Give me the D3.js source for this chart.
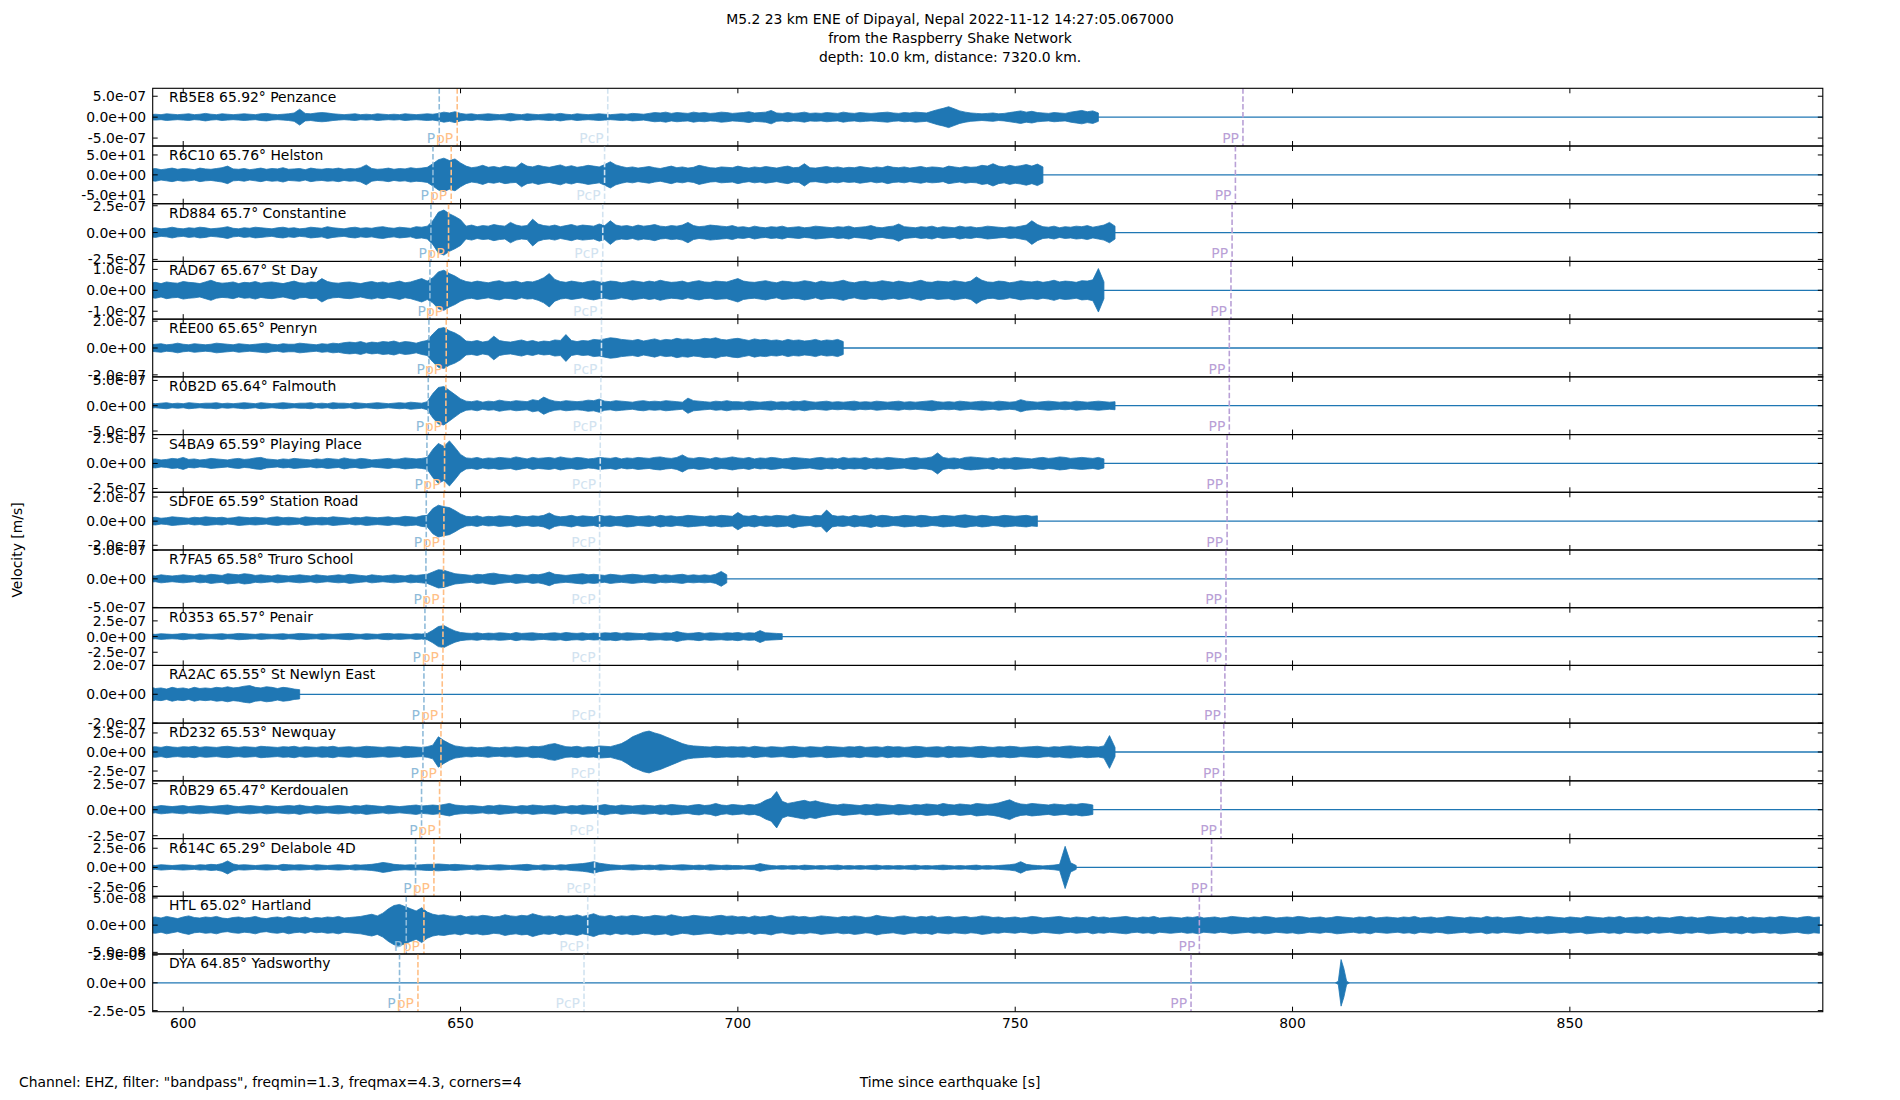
<!DOCTYPE html>
<html>
<head>
<meta charset="utf-8">
<script src="https://cdn.jsdelivr.net/npm/d3@7"></script>
<style>
  body { margin: 0; background: #fff; }
  text { font-family: "DejaVu Sans", sans-serif; font-size: 13.9px; fill: #000; }
</style>
</head>
<body>
<div id="chart"></div>
<script>
(function () {
  const Blue = "#1f77b4";

  // Stations, top to bottom
  const stationCodes = ["RB5E8", "R6C10", "RD884", "RAD67", "REE00", "R0B2D", "S4BA9", "SDF0E",
    "R7FA5", "R0353", "RA2AC", "RD232", "R0B29", "R614C", "HTL", "DYA"];
  const distances = [65.92, 65.76, 65.7, 65.67, 65.65, 65.64, 65.59, 65.59,
    65.58, 65.57, 65.55, 65.53, 65.47, 65.29, 65.02, 64.85];
  const places = ["Penzance", "Helston", "Constantine", "St Day", "Penryn", "Falmouth", "Playing Place", "Station Road",
    "Truro School", "Penair", "St Newlyn East", "Newquay", "Kerdoualen", "Delabole 4D", "Hartland", "Yadsworthy"];

  // y range (+/-) and tick value of each panel [m/s]
  const yLimits = [6.9e-7, 72.5, 2.69e-7, 1.38e-7, 2.15e-7, 5.7e-7, 2.88e-7, 2.39e-7,
    5.05e-7, 4.6e-7, 2.0e-7, 3.79e-7, 2.77e-7, 3.76e-6, 5.3e-8, 2.6e-5];
  const yTicks = [5e-7, 50, 2.5e-7, 1e-7, 2e-7, 5e-7, 2.5e-7, 2e-7,
    5e-7, 2.5e-7, 2e-7, 2.5e-7, 2.5e-7, 2.5e-6, 5e-8, 2.5e-5];

  // phase arrival times [s since origin]
  const pTimes = [646.16, 645.03, 644.66, 644.48, 644.3, 644.18, 643.94, 643.82,
    643.76, 643.58, 643.4, 643.22, 642.97, 641.89, 640.21, 639.0];
  const pPTimes = [649.4, 648.32, 647.84, 647.6, 647.42, 647.36, 647.12, 647.0,
    646.94, 646.83, 646.7, 646.47, 646.22, 645.2, 643.4, 642.32];
  const pcpTimes = [676.54, 675.97, 675.64, 675.41, 675.41, 675.3, 675.19, 675.07,
    675.07, 675.07, 675.07, 674.96, 674.74, 674.17, 672.93, 672.26];
  const ppTimes = [791.06, 789.7, 789.1, 788.9, 788.6, 788.6, 788.2, 788.2,
    788.0, 788.0, 787.8, 787.6, 787.1, 785.4, 783.2, 781.7];

  const timeLimits = [594.5, 895.6];
  const timeTicks = [600, 650, 700, 750, 800, 850];

  // trace envelopes in units of (tick value / 50), first sample time and step [s]
  const traceStart = [594, 594, 594, 594, 594, 594, 594, 594, 594, 594, 594, 594, 594, 594, 594, 807.75];
  const sampleStep = [1, 1, 1, 1, 1, 1, 1, 1, 1, 1, 1, 1, 1, 1, 1, 0.5];

  const envPenzance = [6,7,6,8,7,6,7,8,6,7,9,7,6,8,7,6,7,8,7,6,8,9,7,6,7,8,
    10,19,9, 8,10,11,10,8,
    7,6,7,8,6,7,6,8,7,6,7,6,8,7,6,7,8,7,
    9,12,10,13,9,
    7,8,6,7,8,7,6,7,9,7,6,8,7,6,7,8,7,9,7,6,8,7,6,7,8,7,6,7,8,7,9,8,7,
    9,11,10,12,9,11,10,9,12,10,11,9,10,12,11,9,10,11,13,10,11,12,16,
    10,9,11,9,10,12,9,10,9,11,10,9,12,10,9,11,10,9,10,11,12,10,9,11,10,12,11,10,
    14,18,21,25,20,15,12,10, 9,8,9,10,8,9,11, 13,15,12,14,11, 10,9,11,10,9,12, 14,16,13,15,10];
  const envHelston = [14,16,13,15,17,14,16,15,13,17,15,14,16,18,22,
    15,14,16,13,15,17,14,16,15,18,14,15,16,13,17,15,14,16,15,17,14,16,15,18,
    25,16,14,15,17,14,16,15,18,16,17,19,
    28,38,42,36,40,30,
    22,18,20,24,19,21,18,22,20,19,30,22,20,24,21,19,22,25,20,23,19,21,24,22,20,26,
    33,25,21,
    18,20,17,19,21,18,16,19,22,18,20,17,19,24,21,18,17,20,19,18,22,19,17,20,18,21,19,17,20,22,18,19,
    28,
    18,17,19,21,18,20,17,19,18,21,19,17,20,18,22,19,18,20,17,19,21,18,20,19,17,22,20,18,21,19,20,24,22,
    28,22,20,24,21,23,26,22,27,20];
  const envConstantine = [8,9,7,8,10,8,7,9,8,10,9,7,8,9,11,8,7,9,8,10,9,8,7,9,10,8,9,7,8,10,9,8,11,9,8,7,9,10,8,9,8,10,11,9,8,10,9,8,11,10,12,
    22,38,42,35,30,24,
    12,14,11,13,12,15,13,12,19,14,12,13,25,16,13,12,14,11,13,15,12,14,13,12,16,13,22,14,12,13,11,14,12,13,15,12,11,13,12,14,19,13,11,12,14,13,12,11,13,
    10,11,9,12,10,9,11,10,12,9,10,11,9,10,12,11,10,9,11,10,12,9,10,11,13,10,9,11,12,16,11,10,9,11,10,12,9,11,10,9,12,10,11,9,10,12,11,10,9,11,10,12,14,22,15,11,10,12,9,11,10,12,11,13,10,12,14,19,12];
  const envStDay = [17,19,16,20,18,17,21,19,18,16,20,24,19,17,18,20,16,19,18,21,17,19,20,18,16,19,22,18,17,20,19,28,21,18,17,19,20,18,16,19,21,18,20,17,19,22,18,20,24,28,22,
    30,44,48,40,34,26,
    21,19,22,20,18,21,23,19,20,22,18,21,20,24,30,40,26,21,19,22,20,18,21,23,20,19,22,21,18,20,23,21,19,22,20,24,21,19,20,22,18,21,23,20,19,22,21,20,24,
    28,22,20,19,21,23,20,18,22,21,19,20,23,21,18,22,20,19,21,24,20,18,21,22,19,20,23,21,19,22,20,18,21,24,20,19,22,21,20,23,21,19,22,32,24,20,19,22,21,18,20,23,21,20,22,19,21,24,20,22,21,19,23,22,25,52,20];
  const envPenryn = [6,7,8,6,7,9,7,6,8,7,6,7,9,8,7,6,8,7,6,7,8,9,7,6,8,7,7,9,8,7,6,8,7,9,8,10,
    11,10,12,9,11,10,12,11,13,10,12,11,9,12,14,
    26,36,38,32,28,22,
    13,12,14,11,13,22,14,12,11,13,15,12,14,11,13,12,15,14,25,14,12,
    14,13,16,15,17,19,18,16,15,14,16,13,15,17,14,16,15,18,16,17,15,16,18,17,19,16,15,17,18,16,14,17,15,16,14,15,13,16,14,15,13,14,16,13,15,14,16,12];
  const envFalmouth = [5,4,5,6,4,5,4,6,5,4,5,5,6,4,5,4,5,6,5,4,6,5,4,5,6,5,4,5,5,6,4,5,4,6,5,5,4,6,5,4,5,6,5,4,5,6,5,7,6,5,8,
    24,36,38,30,22,14,
    9,8,10,7,9,8,11,9,8,10,9,8,12,10,17,12,9,8,10,9,8,9,11,10,13,9,8,10,9,8,7,9,10,8,9,8,10,9,8,7,15,10,9,8,7,9,8,10,8,
    8,7,9,8,7,8,9,7,8,7,9,8,10,8,7,8,9,7,8,7,8,9,7,8,7,9,8,7,8,9,7,8,7,8,9,10,8,7,8,7,9,8,7,8,9,8,7,9,8,7,8,12,9,8,7,8,9,8,7,8,7,9,8,7,8,9,8,7,8];
  const envPlayingPlace = [8,9,7,8,10,9,12,8,9,7,8,10,9,8,7,9,10,8,9,11,12,9,8,7,9,8,10,9,8,7,9,8,10,9,8,11,9,8,10,9,7,8,9,10,8,9,11,10,9,10,12,
    28,40,34,45,32,18,
    11,10,12,9,11,10,12,11,10,13,11,9,12,10,11,12,10,13,11,10,12,11,9,10,12,11,10,12,9,11,10,12,11,10,12,13,11,10,12,17,11,10,12,11,9,12,10,11,13,
    11,10,12,9,11,10,12,11,9,10,12,11,10,9,11,12,10,11,9,12,10,11,10,12,9,11,10,12,11,10,9,11,12,10,11,13,21,12,10,11,9,12,13,12,11,10,12,9,11,10,12,11,10,9,11,12,10,11,13,12,10,11,12,11,10,12,9];
  const envStationRoad = [7,8,6,7,9,8,7,6,8,7,9,8,7,8,6,7,9,8,7,8,7,6,8,9,7,8,7,6,9,8,7,8,7,9,8,7,6,8,7,9,8,7,8,9,7,8,10,9,8,11,12,
    26,33,30,28,22,15,
    10,9,11,8,10,9,11,10,9,12,10,9,11,10,12,17,11,9,10,12,9,11,10,9,12,10,11,9,10,12,11,9,10,11,9,12,10,11,9,10,12,11,10,9,11,10,12,11,10,
    18,11,10,12,9,11,10,12,11,10,14,11,10,9,12,11,23,12,10,11,9,12,10,11,13,10,12,11,9,10,12,11,10,12,11,9,10,12,11,10,12,13,11,10,12,11,9,10,12,11,10,11,12,10,11];
  const envTruroSchool = [6,5,7,6,5,6,7,6,5,7,6,8,7,6,9,8,7,9,8,6,7,6,5,7,6,5,6,7,6,5,7,6,5,6,7,6,8,7,6,5,7,6,5,6,7,6,5,7,6,7,8,
    12,16,15,12,9,8,
    7,6,8,7,9,10,8,7,6,8,7,6,8,7,9,12,8,7,6,7,8,9,7,8,7,6,8,7,6,7,8,7,6,7,8,6,7,6,7,8,6,7,6,7,6,8,13,7];
  const envPenair = [8,7,9,8,7,8,10,8,7,9,8,7,8,9,7,8,10,9,8,7,9,8,7,8,9,7,8,10,9,8,7,9,8,7,8,9,10,8,7,9,8,7,9,10,8,9,8,7,9,8,10,
    20,32,35,26,18,13,
    11,10,12,9,11,10,12,11,9,13,10,11,12,10,9,11,12,10,13,11,10,12,9,11,10,12,11,13,10,12,11,10,9,12,11,10,12,11,16,12,10,11,13,10,12,11,10,12,11,13,10,12,11,19,12,11,10,9];
  const envStNewlynEast = [13,10,11,9,12,10,11,9,12,10,11,10,12,11,13,11,12,14,15,12,11,13,12,10,12,11,9,8];
  const envNewquay = [13,14,12,15,13,12,14,13,15,12,14,13,12,14,15,13,12,14,13,12,15,14,13,12,14,13,15,12,14,13,12,14,13,15,12,13,14,12,13,15,14,13,12,14,13,12,15,14,13,12,14,
    18,40,30,22,16,14,
    12,13,11,12,14,12,11,13,12,14,13,12,15,14,16,20,22,18,14,13,15,12,14,13,16,15,14,18,22,30,40,46,52,55,50,46,40,34,28,22,18,16,15,14,13,15,14,13,14,
    13,14,12,15,13,12,14,13,12,14,15,13,12,14,13,12,15,14,13,12,14,13,15,12,13,14,12,15,13,14,12,13,15,14,12,13,14,12,15,13,14,13,12,14,15,13,12,14,13,15,14,12,13,14,15,13,12,14,13,15,16,14,13,15,14,13,16,43,12];
  const envKerdoualen = [7,6,8,7,6,7,8,6,7,8,7,6,7,8,9,7,6,7,8,7,6,8,7,6,7,8,7,9,7,6,8,7,6,7,8,7,6,8,7,9,8,7,6,8,7,6,7,8,9,7,8,
    9,8,10,12,9,8,
    7,8,7,6,8,7,9,8,7,6,8,7,9,8,7,8,9,7,6,8,7,9,8,7,8,10,8,7,9,8,7,8,9,8,7,9,8,10,9,8,7,9,10,8,9,12,9,8,10,
    9,8,10,9,12,18,22,35,16,12, 14,16,18,15,17,14,12,10,9,11, 10,9,8,10,9,11,10,9,8,10, 9,8,10,9,11,10,9,12,10,9,
    11,10,9,12,11,10,11,13, 16,19,14, 11,10,12,11,10,9,11,10,9,11,10,12,11,9];
  const envDelabole = [6,5,7,6,5,6,7,6,5,7,6,8,7, 10,17,9,
    6,7,6,5,6,7,6,5,8,7,6,7,6,5,7,6,5,6,7,6,5,7,6,7,8, 10,13,11,8, 7,6,7,6,7,8,
    8,9,8,7,8,7,
    6,5,7,6,5,6,7,6,5,6,7,8,6,5,7,6,5,7,6,8,9,10,12,15,11,9,7,6,5,6,7,6,5,6,5,7,6,5,6,7,6,5,6,5,7,6,5,6,5,
    5,4,5,6,10,7,5,4,5,4,5,4,6,5,4,5,4,5,6,4,5,4,5,4,5,6,4,5,4,5,4,5,6,4,5,4,5,6,5,4,5,4,5,6,4,5,4,5,6,7,9,15,8,6,5,4,5,6,8,55,12,5];
  const envHartland = [14,15,13,16,14,12,15,17,14,13,15,14,16,13,12,14,15,13,14,16,13,12,14,15,13,16,14,13,15,12,14,13,15,14,16,13,14,15,16,18,20,
    17,22,30,36,38,34,30,26,32,24,20,18,19,
    17,16,18,15,17,16,18,17,15,16,19,17,16,18,17,21,18,16,17,15,18,16,17,19,16,18,21,17,16,18,15,17,16,18,17,15,16,18,17,16,19,17,15,16,18,17,16,15,17,18,16,17,
    15,16,14,17,15,16,18,15,14,16, 17,15,16,14,15,17,16,15,14,16, 15,17,16,14,15,18,16,15,14,16, 17,15,14,16,15,17,14,15,16,14,
    15,16,14,15,17,16,14,15,13,14, 15,13,14,16,15,13,14,15,16,14, 13,15,14,13,16,14,15,13,14,15, 16,14,13,15,14,16,13,14,15,14,
    13,15,14,16,13,14,15,13,14,16, 15,14,13,15,14,16,15,13,14,15,
    14,16,15,13,14,15,13,14,16,15, 14,13,15,14,16,13,14,15,14,13, 15,14,16,13,14,15,13,14,16,15, 14,13,15,14,13,16,14,15,13,14,
    15,16,14,13,15,14,16,15,14,13, 15,14,13,16,15,14,13,15,14,16, 13,14,15,14,16,13,15,14,13,15, 16,14,15,13,14,16,15,14,13,15,
    14,16,13,15,14,13,15,14,16,15, 14,13,15,16,14,15];
  const envYadsworthy = [0,3,42,26,3,0];

  const envelopes = [envPenzance, envHelston, envConstantine, envStDay, envPenryn, envFalmouth,
    envPlayingPlace, envStationRoad, envTruroSchool, envPenair, envStNewlynEast, envNewquay,
    envKerdoualen, envDelabole, envHartland, envYadsworthy];

  const phases = [
    { name: "P", times: pTimes, color: "#8fbbd9" },
    { name: "pP", times: pPTimes, color: "#ffbf86" },
    { name: "PcP", times: pcpTimes, color: "#d2e3f0" },
    { name: "PP", times: ppTimes, color: "#b9a0d6" },
  ];

  const width = 1900, height = 1100;
  const left = 152.7, right = 1822.8, top = 88.3, bottom = 1011.7;
  const panelH = (bottom - top) / stationCodes.length;

  function fmtExp(v) {
    var parts = v.toExponential(1).split("e");
    var e = parts[1];
    return parts[0] + "e" + e[0] + e.slice(1).padStart(2, "0");
  }

  var svg = d3.select("#chart").append("svg")
    .attr("width", width)
    .attr("height", height);

  svg.append("rect").attr("width", width).attr("height", height).attr("fill", "#fff");

  var x = d3.scaleLinear().domain(timeLimits).range([left, right]);

  // title
  var titleLines = ["M5.2 23 km ENE of Dipayal, Nepal 2022-11-12 14:27:05.067000",
    "from the Raspberry Shake Network",
    "depth: 10.0 km, distance: 7320.0 km."];
  svg.selectAll(".title")
    .data(titleLines)
    .enter()
    .append("text")
    .attr("class", "title")
    .attr("x", 950)
    .attr("y", (d, i) => 19 + i * 19)
    .attr("dominant-baseline", "central")
    .attr("text-anchor", "middle")
    .text(d => d);

  stationCodes.forEach(function (code, i) {
    var g = svg.append("g").attr("transform", "translate(0," + (top + i * panelH) + ")");
    var y = d3.scaleLinear().domain([-yLimits[i], yLimits[i]]).range([panelH, 0]);

    g.append("clipPath").attr("id", "clip" + i)
      .append("rect").attr("x", left).attr("y", 0).attr("width", right - left).attr("height", panelH);

    var plot = g.append("g").attr("clip-path", "url(#clip" + i + ")");

    // flat part of the trace
    plot.append("line")
      .attr("x1", x(timeLimits[0])).attr("x2", x(timeLimits[1]))
      .attr("y1", y(0)).attr("y2", y(0))
      .attr("stroke", Blue).attr("stroke-width", 1.3);

    var unit = yTicks[i] / 50;
    var pts = envelopes[i].map(function (v, k) {
      return { t: traceStart[i] + k * sampleStep[i], a: v * unit };
    });
    var area = d3.area()
      .x(d => x(d.t))
      .y0(d => y(-d.a))
      .y1(d => y(d.a));
    plot.append("path")
      .datum(pts)
      .attr("d", area)
      .attr("fill", Blue)
      .attr("stroke", Blue)
      .attr("stroke-width", 0.8)
      .attr("stroke-linejoin", "round");

    // phase markers
    phases.forEach(function (ph) {
      var px = x(ph.times[i]);
      plot.append("line")
        .attr("x1", px).attr("x2", px)
        .attr("y1", 0).attr("y2", panelH)
        .attr("stroke", ph.color)
        .attr("stroke-width", 1.6)
        .attr("stroke-dasharray", "5.5,2.4");
      g.append("text")
        .attr("x", px - 4)
        .attr("y", panelH - 8.3)
        .attr("dominant-baseline", "central")
        .attr("text-anchor", "end")
        .style("fill", ph.color)
        .text(ph.name);
    });

    // ticks, inward
    var yt = [-yTicks[i], 0, yTicks[i]];
    yt.forEach(function (v) {
      g.append("line").attr("x1", left).attr("x2", left + 5)
        .attr("y1", y(v)).attr("y2", y(v)).attr("stroke", "#000").attr("stroke-width", 1);
      g.append("line").attr("x1", right - 5).attr("x2", right)
        .attr("y1", y(v)).attr("y2", y(v)).attr("stroke", "#000").attr("stroke-width", 1);
      g.append("text")
        .attr("x", left - 6.5)
        .attr("y", y(v))
        .attr("dominant-baseline", "central")
        .attr("text-anchor", "end")
        .text(fmtExp(v));
    });
    timeTicks.forEach(function (t) {
      g.append("line").attr("x1", x(t)).attr("x2", x(t))
        .attr("y1", 0).attr("y2", 5).attr("stroke", "#000").attr("stroke-width", 1);
      g.append("line").attr("x1", x(t)).attr("x2", x(t))
        .attr("y1", panelH - 5).attr("y2", panelH).attr("stroke", "#000").attr("stroke-width", 1);
    });

    // frame
    g.append("rect")
      .attr("x", left).attr("y", 0)
      .attr("width", right - left).attr("height", panelH)
      .attr("fill", "none").attr("stroke", "#000").attr("stroke-width", 1.1);

    g.append("text")
      .attr("x", 169)
      .attr("y", 9)
      .attr("dominant-baseline", "central")
      .text(code + " " + distances[i] + "\u00b0 " + places[i]);
  });

  // x tick labels under the last panel
  svg.selectAll(".xtick")
    .data(timeTicks)
    .enter()
    .append("text")
    .attr("class", "xtick")
    .attr("x", d => x(d))
    .attr("y", 1023.3)
    .attr("dominant-baseline", "central")
    .attr("text-anchor", "middle")
    .text(d => d);

  svg.append("text")
    .attr("x", 950)
    .attr("y", 1081.7)
    .attr("dominant-baseline", "central")
    .attr("text-anchor", "middle")
    .text("Time since earthquake [s]");

  svg.append("text")
    .attr("x", 19)
    .attr("y", 1081.7)
    .attr("dominant-baseline", "central")
    .text('Channel: EHZ, filter: "bandpass", freqmin=1.3, freqmax=4.3, corners=4');

  svg.append("text")
    .attr("transform", "translate(17,550) rotate(-90)")
    .attr("dominant-baseline", "central")
    .attr("text-anchor", "middle")
    .text("Velocity [m/s]");
})();
</script>
</body>
</html>
